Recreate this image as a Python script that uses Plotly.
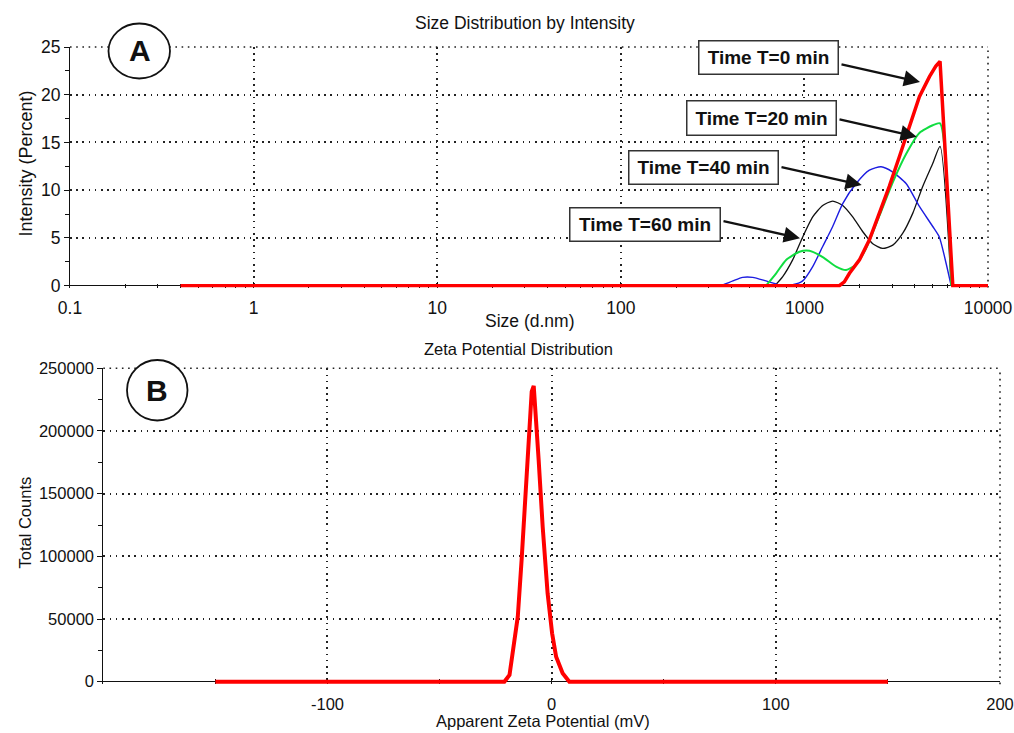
import plotly.graph_objects as go

# ---------------- data ----------------
# Panel A: size distribution by intensity
size_t0 = [0.4, 1550, 1650, 1760, 1995, 2260, 2560, 2900, 3290, 3730, 4230, 4800, 5200, 5480, 6430, 10000]
int_t0 = [0, 0, 0.4, 1.3, 2.7, 4.8, 7.6, 10.4, 13.5, 16.6, 19.8, 21.9, 23.0, 23.5, 0, 0]

size_t20 = [618, 702, 795, 940, 1065, 1258, 1488, 1688, 1907, 2166, 2560, 3025, 3580, 4230, 5000, 5480, 6300]
int_t20 = [0, 1.3, 2.7, 3.56, 3.66, 3.0, 2.0, 1.64, 2.2, 3.9, 7.3, 10.8, 13.8, 16.0, 16.8, 17.0, 0]

size_t40 = [351, 408, 461, 523, 618, 731, 863, 979, 1110, 1258, 1426, 1617, 1913, 2260, 2617, 3030, 3580, 4230, 5000, 5430, 5920, 6300]
int_t40 = [0, 0.5, 0.87, 0.87, 0.5, 0.1, 0.1, 0.5, 2.0, 4.1, 6.2, 8.6, 10.7, 12.1, 12.45, 11.9, 10.7, 8.3, 6.2, 5.1, 2.3, 0]

size_t60 = [690, 762, 863, 979, 1110, 1258, 1426, 1617, 1833, 2080, 2356, 2670, 3030, 3435, 3895, 4410, 5000, 5480, 6300]
int_t60 = [0, 0.95, 2.7, 5.1, 7.2, 8.4, 8.86, 8.4, 7.2, 5.65, 4.4, 3.9, 4.25, 5.5, 7.6, 10.4, 12.8, 14.6, 0]

size_tickvals = [0.1, 1, 10, 100, 1000, 10000]
size_ticktext = ["0.1", "1", "10", "100", "1000", "10000"]
size_minor = [m * d for d in [0.1, 1, 10, 100, 1000] for m in range(2, 10)]

# Panel B: zeta potential distribution
zeta_mv = [-150, -21.1, -18.8, -17.1, -15.1, -13.4, -11.7, -10.2, -8.9, -8.0, -7.3, -5.8, -4.0, -1.8, 0.2, 2.0, 4.9, 7.9, 150]
zeta_counts = [0, 0, 5300, 27900, 51900, 97100, 150300, 195400, 231300, 235900, 219400, 176900, 123600, 70500, 38600, 19900, 6700, 0, 0]

zeta_tickvals = [-100, 0, 100, 200]
zeta_ticktext = ["-100", "0", "100", "200"]
zeta_minor = [-150, -50, 50, 150]

labels = ["Time T=0 min", "Time T=20 min", "Time T=40 min", "Time T=60 min"]

# ---------------- figure ----------------
W, H = 1014, 733
FONT = "Liberation Sans, Arial, sans-serif"
GRIDCOL = "#222222"
GRIDDASH = "1.6px,4.6px"
GRID = dict(showgrid=True, gridcolor=GRIDCOL, gridwidth=1.6, griddash=GRIDDASH)

def px(x):
    return x / W

def py(y):
    return 1 - y / H

fig = go.Figure()

fig.add_trace(go.Scatter(x=size_t60, y=int_t60, mode="lines", line=dict(color="#111111", width=1.3, shape="spline", smoothing=0.6), xaxis="x", yaxis="y"))
fig.add_trace(go.Scatter(x=size_t40, y=int_t40, mode="lines", line=dict(color="#1c1ce0", width=1.4, shape="spline", smoothing=0.6), xaxis="x", yaxis="y"))
fig.add_trace(go.Scatter(x=size_t20, y=int_t20, mode="lines", line=dict(color="#10dd40", width=2, shape="spline", smoothing=0.6), xaxis="x", yaxis="y"))
fig.add_trace(go.Scatter(x=size_t0, y=int_t0, mode="lines", line=dict(color="#ff0000", width=3.5), xaxis="x", yaxis="y"))

fig.add_trace(go.Scatter(x=zeta_mv, y=zeta_counts, mode="lines", line=dict(color="#ff0000", width=4), xaxis="x2", yaxis="y2"))

tickfA = dict(family=FONT, size=17.5, color="#111111")
tickfB = dict(family=FONT, size=16.5, color="#111111")

fig.update_layout(
    width=W, height=H,
    margin=dict(l=0, r=0, t=0, b=0),
    paper_bgcolor="white", plot_bgcolor="white",
    showlegend=False,
    template="none",
    font=dict(family=FONT, color="#111111"),
    xaxis=dict(
        type="log", domain=[px(70), px(988)], range=[-1, 4], anchor="y",
        tickmode="array", tickvals=size_tickvals, ticktext=size_ticktext,
        ticks="inside", ticklen=6, tickwidth=1, tickcolor="#111111",
        minor=dict(tickvals=size_minor, ticks="inside", ticklen=4, tickcolor="#111111", showgrid=False),
        showline=False, zeroline=False, tickfont=tickfA, layer="below traces",
        ticklabelstandoff=8, automargin=False, **GRID,
    ),
    yaxis=dict(
        domain=[py(287.6), py(47)], range=[-0.2, 25], anchor="x",
        tick0=0, dtick=5, ticks="outside", ticklen=5, tickcolor="#111111",
        minor=dict(dtick=2.5, tick0=0, ticks="outside", ticklen=4, tickcolor="#111111", showgrid=False),
        showline=True, linecolor="#111111", linewidth=1,
        zeroline=True, zerolinecolor="#111111", zerolinewidth=1,
        tickfont=tickfA, layer="below traces", automargin=False, **GRID,
    ),
    xaxis2=dict(
        domain=[px(103.3), px(1000)], range=[-200, 200], anchor="y2",
        tickmode="array", tickvals=zeta_tickvals, ticktext=zeta_ticktext,
        ticks="inside", ticklen=6, tickcolor="#111111",
        minor=dict(tickvals=zeta_minor, ticks="inside", ticklen=5, tickcolor="#111111", showgrid=False),
        showline=False, zeroline=False, tickfont=tickfB, layer="below traces",
        ticklabelstandoff=8, automargin=False, **GRID,
    ),
    yaxis2=dict(
        domain=[py(684.2), py(368.3)], range=[-2000, 250000], anchor="x2",
        tick0=0, dtick=50000, ticks="outside", ticklen=5, tickcolor="#111111",
        minor=dict(dtick=25000, tick0=0, ticks="outside", ticklen=4, tickcolor="#111111", showgrid=False),
        showline=True, linecolor="#111111", linewidth=1,
        zeroline=True, zerolinecolor="#111111", zerolinewidth=1,
        tickformat="d", separatethousands=False,
        tickfont=tickfB, layer="below traces", automargin=False, **GRID,
    ),
)

ann = []
def text(x, y, s, size, **kw):
    ann.append(dict(x=px(x), y=py(y), xref="paper", yref="paper", text=s, showarrow=False,
                    font=dict(family=FONT, size=size, color="#111111"), xanchor="center", yanchor="middle", **kw))

text(525, 23, "Size Distribution by Intensity", 17.5)
text(529, 321, "Size (d.nm)", 17.5)
text(25.5, 164, "Intensity (Percent)", 18, textangle=-90)
text(518, 349, "Zeta Potential Distribution", 16.5)
text(543, 721, "Apparent Zeta Potential (mV)", 16.5)
text(24.5, 523, "Total Counts", 16.5, textangle=-90)

# Label boxes (center x, center y, width, height)
boxes = [(768.5, 57.5, 141, 35), (761.5, 118, 151, 36), (703.5, 167.5, 151, 35), (645, 224.5, 152, 35)]
for lab, (cx, cy, bw, bh) in zip(labels, boxes):
    ann.append(dict(x=px(cx), y=py(cy), xref="paper", yref="paper", text="<b>" + lab + "</b>",
                    showarrow=False, font=dict(family=FONT, size=19, color="#111111"),
                    bgcolor="white", bordercolor="#333333", borderwidth=1.5, borderpad=0,
                    width=bw - 3, height=bh - 3, xanchor="center", yanchor="middle"))

# Arrows (head x, head y, tail x, tail y) in pixels
arrows = [(920, 82, 840, 64), (916.7, 136.7, 838, 119), (861.7, 185, 780, 166.7), (800, 238.3, 722, 220.7)]
for hx, hy, tx, ty in arrows:
    ann.append(dict(x=px(hx), y=py(hy), xref="paper", yref="paper", text="", showarrow=True,
                    ax=tx - hx, ay=ty - hy, arrowhead=2, arrowsize=1.4, arrowwidth=2.3,
                    arrowcolor="#111111", standoff=0))

# Panel letters
text(139.5, 51, "<b>A</b>", 30)
text(157, 390.5, "<b>B</b>", 30)

fig.update_layout(annotations=ann)

def dotted(xref, yref, x0, y0, x1, y1):
    return dict(type="line", xref=xref, yref=yref, x0=x0, y0=y0, x1=x1, y1=y1,
                line=dict(color=GRIDCOL, width=1.6, dash=GRIDDASH), layer="below")

shapes = [
    # grid lines lying on the top and right edges of each plot area
    dotted("x domain", "y domain", 0, 1, 1, 1),
    dotted("x domain", "y domain", 1, 0, 1, 1),
    dotted("x2 domain", "y2 domain", 0, 1, 1, 1),
    dotted("x2 domain", "y2 domain", 1, 0, 1, 1),
    dict(type="circle", xref="paper", yref="paper", x0=px(108.5), x1=px(170), y0=py(23.5), y1=py(78.5),
         line=dict(color="#111111", width=1.8), fillcolor="white", layer="above"),
    dict(type="circle", xref="paper", yref="paper", x0=px(127), x1=px(187.5), y0=py(360), y1=py(420.5),
         line=dict(color="#111111", width=1.8), fillcolor="white", layer="above"),
]
fig.update_layout(shapes=shapes)

fig.write_html("out.html")
